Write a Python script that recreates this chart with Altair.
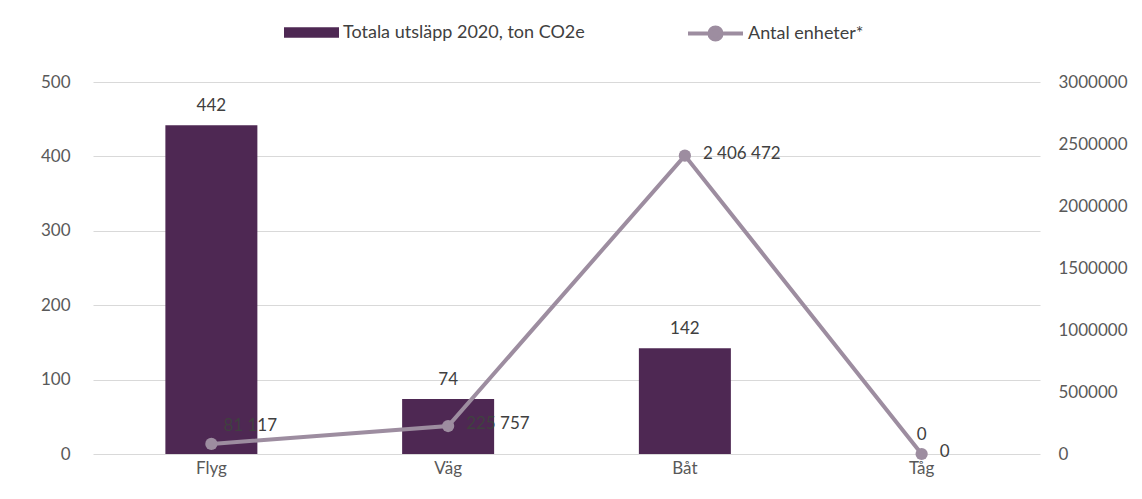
import altair as alt
import pandas as pd

categories = ["Flyg", "Väg", "Båt", "Tåg"]
emissions = [442, 74, 142, 0]
units = [81117, 225757, 2406472, 0]

bar_name = "Totala utsläpp 2020, ton CO2e"
line_name = "Antal enheter*"

df = pd.DataFrame({
    "cat": categories,
    "emis": emissions,
    "units": units,
    "unit_label": [f"{v:,}".replace(",", " ") for v in units],
    "bar_series": bar_name,
    "line_series": line_name,
})

FONT = "Lato"
BAR_COLOR = "#4E2853"
LINE_COLOR = "#9D8DA0"
TXT = "#404040"
AX = "#595959"

x = alt.X("cat:N", sort=categories, title=None,
          scale=alt.Scale(paddingInner=0, paddingOuter=0),
          axis=alt.Axis(labelAngle=0, domain=False, ticks=False, labelPadding=6,
                        labelFontSize=17, labelColor=AX, labelFont=FONT))

y_left = alt.Y("emis:Q", title=None,
               scale=alt.Scale(domain=[0, 500]),
               axis=alt.Axis(values=[0, 100, 200, 300, 400, 500], domain=False, ticks=False,
                             labelPadding=23, labelFontSize=17, labelColor=AX, labelFont=FONT,
                             grid=True, gridColor="#d9d9d9", gridWidth=1))

bar_path = "M-1,-0.19 L1,-0.19 L1,0.19 L-1,0.19 Z"
bars = alt.Chart(df).mark_bar(size=92).encode(
    x=x, y=y_left,
    color=alt.Color("bar_series:N", title=None,
                    scale=alt.Scale(domain=[bar_name], range=[BAR_COLOR]),
                    legend=alt.Legend(orient="none", legendX=190, legendY=-78,
                                      symbolType=bar_path, symbolSize=3025,
                                      labelFontSize=18, labelColor=TXT, labelFont=FONT,
                                      labelLimit=1000, labelOffset=3, symbolOpacity=1)),
)
bar_text = alt.Chart(df).mark_text(baseline="bottom", dy=-10, fontSize=17,
                                   color=TXT, font=FONT).encode(
    x=alt.X("cat:N", sort=categories), y=alt.Y("emis:Q"), text=alt.Text("emis:Q"))
bar_layer = alt.layer(bars, bar_text)

y_right = alt.Y("units:Q", title=None,
                scale=alt.Scale(domain=[0, 3000000]),
                axis=alt.Axis(orient="right", values=[0, 500000, 1000000, 1500000, 2000000, 2500000, 3000000],
                              format="d", domain=False, ticks=False, grid=False,
                              labelPadding=18, labelFontSize=17, labelColor=AX, labelFont=FONT))

line_path = "M-1,0 L1,0 M-0.22,0 A0.22,0.22 0 1,0 0.22,0 A0.22,0.22 0 1,0 -0.22,0 Z"
line = alt.Chart(df).mark_line(strokeWidth=4).encode(
    x=alt.X("cat:N", sort=categories), y=y_right,
    color=alt.Color("line_series:N", title=None,
                    scale=alt.Scale(domain=[line_name], range=[LINE_COLOR]),
                    legend=alt.Legend(orient="none", legendX=593, legendY=-78,
                                      symbolType=line_path, symbolSize=3025,
                                      symbolStrokeWidth=4, symbolFillColor=LINE_COLOR,
                                      symbolStrokeColor=LINE_COLOR,
                                      labelFontSize=18, labelColor=TXT, labelFont=FONT,
                                      labelLimit=1000, labelOffset=3)),
)
points = alt.Chart(df).mark_circle(size=150, opacity=1).encode(
    x=alt.X("cat:N", sort=categories), y=alt.Y("units:Q"),
    color=alt.Color("line_series:N", legend=None))

text_enc = dict(x=alt.X("cat:N", sort=categories), y=alt.Y("units:Q"), text="unit_label:N")
line_text_first = alt.Chart(df).mark_text(align="left", baseline="middle", dx=12, dy=-18,
                                          fontSize=17, color=TXT, font=FONT).encode(
    **text_enc).transform_filter(alt.datum.cat == "Flyg")
line_text_rest = alt.Chart(df).mark_text(align="left", baseline="middle", dx=18, dy=-2,
                                         fontSize=17, color=TXT, font=FONT).encode(
    **text_enc).transform_filter(alt.datum.cat != "Flyg")
line_layer = alt.layer(line, points, line_text_first, line_text_rest)

chart = alt.layer(bar_layer, line_layer).resolve_scale(
    y="independent", color="independent"
).properties(
    width=947, height=372,
    background="white",
    autosize=alt.AutoSizeParams(type="none"),
    padding={"left": 85, "top": 74, "right": 94, "bottom": 37},
).configure_view(strokeWidth=0, stroke=None)

chart.save("out.html", embed_options={"renderer": "svg", "actions": False})
